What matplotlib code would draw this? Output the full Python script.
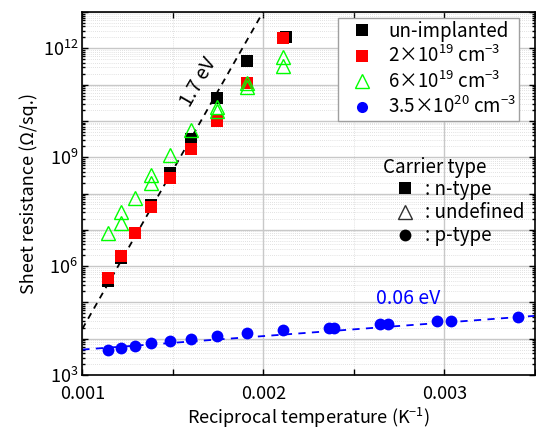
import numpy as np
import matplotlib
matplotlib.use("Agg")
import matplotlib.pyplot as plt
from matplotlib.lines import Line2D
from matplotlib.ticker import LogLocator, MultipleLocator, NullFormatter, FixedLocator

plt.rcParams['font.family'] = ['Noto Sans CJK JP', 'DejaVu Sans']
plt.rcParams['mathtext.fontset'] = 'custom'
plt.rcParams['mathtext.rm'] = 'Noto Sans CJK JP'
plt.rcParams['mathtext.it'] = 'Noto Sans CJK JP'
plt.rcParams['axes.unicode_minus'] = True

# ---------------- data ----------------
x_undoped = [0.0011429, 0.0012126, 0.0012934, 0.0013813, 0.0014846, 0.0016027,
             0.0017429, 0.0019121, 0.002125]
logR_undoped = [5.60, 6.22, 6.92, 7.68, 8.56, 9.49, 10.64, 11.65, 12.32]

x_2e19 = [0.0011429, 0.0012126, 0.0012934, 0.0013813, 0.0014846, 0.0016027,
          0.0017429, 0.0019121, 0.002111]
logR_2e19 = [5.66, 6.28, 6.92, 7.64, 8.42, 9.22, 10.00, 11.04, 12.28]

x_6e19 = [0.0011429, 0.0012126, 0.0012126, 0.0012934, 0.0013813, 0.0013813,
          0.0014846, 0.0016027, 0.0017429, 0.0017429, 0.0019121, 0.0019121,
          0.002111, 0.002111]
logR_6e19 = [6.92, 7.50, 7.20, 7.88, 8.51, 8.28, 9.07, 9.75, 10.38, 10.27,
             11.05, 10.93, 11.77, 11.51]

x_35e20 = [0.0011429, 0.0012126, 0.0012934, 0.0013813, 0.0014846, 0.0016027,
           0.0017429, 0.0019121, 0.002111, 0.002361, 0.0023885, 0.002645,
           0.002687, 0.0029615, 0.003038, 0.003405]
logR_35e20 = [3.69, 3.74, 3.80, 3.87, 3.94, 4.00, 4.07, 4.15, 4.23, 4.30, 4.30,
              4.40, 4.40, 4.48, 4.50, 4.61]

# fitted Arrhenius lines (end points)
fit_n_x = [0.0010, 0.0021]
fit_n_logR = [4.27, 13.89]
fit_p_x = [0.0010, 0.0035]
fit_p_logR = [3.70, 4.63]

series_labels = ['un-implanted',
                 r'2$\times$10$^{19}$ cm$^{-3}$',
                 r'6$\times$10$^{19}$ cm$^{-3}$',
                 r'3.5$\times$10$^{20}$ cm$^{-3}$']
carrier_title = 'Carrier type'
carrier_labels = [': n-type', ': undefined', ': p-type']

GREEN = '#00ff00'
RED = '#ff0000'
BLUE = '#0000ff'

def pw(v):
    return 10.0 ** np.asarray(v)

# ---------------- figure ----------------
W, H = 536, 434
fig = plt.figure(figsize=(W / 100, H / 100), dpi=100)
L, R, T, B = 82.3, 535, 12, 375
ax = fig.add_axes([L / W, 1 - B / H, (R - L) / W, (B - T) / H])

def axfrac(px, py):
    return ((px - L) / (R - L), 1 - (py - T) / (B - T))

ax.set_yscale('log')
ax.set_xlim(0.001, 0.0035)
ax.set_ylim(1e3, 1e13)

ax.xaxis.set_major_locator(FixedLocator([0.001, 0.002, 0.003]))
ax.xaxis.set_minor_locator(MultipleLocator(0.0005))
ax.yaxis.set_major_locator(LogLocator(base=10, numticks=20))
ax.yaxis.set_minor_locator(LogLocator(base=10, subs=np.arange(2, 10), numticks=100))
ax.yaxis.set_minor_formatter(NullFormatter())

def yfmt(v, pos):
    e = int(round(np.log10(v)))
    return r'10$^{%d}$' % e if e % 3 == 0 else ''
ax.yaxis.set_major_formatter(plt.FuncFormatter(yfmt))
ax.xaxis.set_major_formatter(plt.FuncFormatter(lambda v, p: '%.3f' % v))

ax.grid(which='major', color='#c8c8c8', lw=1.0, ls='-')
ax.grid(which='minor', color='#d8d8d8', lw=0.6, ls=(0, (1, 1.5)))
ax.set_axisbelow(True)

ax.tick_params(which='both', direction='in', top=True, right=True, width=1.0,
               labelsize=13, colors='black')
ax.tick_params(which='major', length=4)
ax.tick_params(which='minor', length=2.5)
ax.tick_params(axis='x', which='minor', length=4)
ax.tick_params(axis='x', which='major', pad=7)
ax.tick_params(axis='y', which='major', pad=3)
for s in ax.spines.values():
    s.set_linewidth(1.2)

# fit lines
ax.plot(fit_n_x, pw(fit_n_logR), color='black', lw=1.3, ls=(0, (3.5, 3)), zorder=2)
ax.plot(fit_p_x, pw(fit_p_logR), color=BLUE, lw=1.3, ls=(0, (4, 3.5)), zorder=2)

# data
ax.plot(x_undoped, pw(logR_undoped), 's', color='black', ms=8.5, mew=0, zorder=3)
ax.plot(x_2e19, pw(logR_2e19), 's', color=RED, ms=8.0, mew=0, zorder=4)
ax.plot(x_6e19, pw(logR_6e19), '^', mfc='none', mec=GREEN, ms=9.5, mew=1.0, zorder=5)
ax.plot(x_35e20, pw(logR_35e20), 'o', color=BLUE, ms=8.5, mew=0, zorder=6)

# annotations
ax.text(0.00164, 1.2e11, '1.7 eV', rotation=60, ha='center', va='center',
        fontsize=14, color='black')
ax.text(0.0028, 1.25e5, '0.06 eV', ha='center', va='center', fontsize=14, color=BLUE)

ax.set_xlabel(r'Reciprocal temperature (K$^{-1}$)', fontsize=13, labelpad=2)
ax.set_ylabel('Sheet resistance (Ω/sq.)', fontsize=13, labelpad=3)

# legend 1: series
h1 = [Line2D([], [], ls='none', marker='s', color='black', ms=8, mew=0),
      Line2D([], [], ls='none', marker='s', color=RED, ms=8, mew=0),
      Line2D([], [], ls='none', marker='^', mfc='none', mec=GREEN, ms=9.5, mew=1.0),
      Line2D([], [], ls='none', marker='o', color=BLUE, ms=8, mew=0)]
leg1 = ax.legend(h1, series_labels, loc='upper right',
                 bbox_to_anchor=axfrac(519, 17.7),
                 borderaxespad=0, fontsize=13.5, frameon=True, fancybox=False,
                 edgecolor='#a0a0a0', framealpha=1, handletextpad=0.3,
                 labelspacing=0.22, borderpad=0.15, handlelength=2.2)
leg1.get_frame().set_linewidth(1.0)
ax.add_artist(leg1)

# legend 2: carrier type
ax.text(*axfrac(435, 167), carrier_title, transform=ax.transAxes, ha='center',
        va='center', fontsize=13.5)
h2 = [Line2D([], [], ls='none', marker='s', color='black', ms=8, mew=0),
      Line2D([], [], ls='none', marker='^', mfc='none', mec='#303030', ms=9.5, mew=1.0),
      Line2D([], [], ls='none', marker='o', color='black', ms=8.5, mew=0)]
leg2 = ax.legend(h2, carrier_labels, loc='upper left',
                 bbox_to_anchor=axfrac(391, 179),
                 borderaxespad=0, fontsize=13.5, frameon=False,
                 handletextpad=0.3, labelspacing=0.12, borderpad=0.0, handlelength=1.5)

fig.savefig('out.png', dpi=100)
